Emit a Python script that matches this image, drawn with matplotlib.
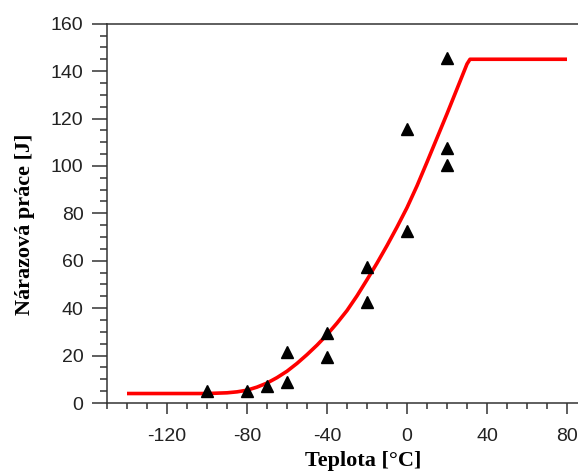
import matplotlib
matplotlib.use("Agg")
import matplotlib.pyplot as plt
from matplotlib.ticker import MultipleLocator

plt.rcParams["axes.unicode_minus"] = False

# measured impact energy
temp_meas = [-100, -80, -70, -60, -60, -40, -40, -20, -20, 0, 0, 20, 20, 20]
energy_meas = [5, 5, 7.3, 21.5, 9, 29.5, 19.5, 57.5, 42.5, 115.5, 72.5, 145.5, 107.5, 100.5]

# fitted transition curve
temp_fit = [-140, -100, -90, -85, -80, -75, -70, -65, -60, -55, -50, -45, -40, -35,
            -30, -25, -20, -15, -10, -5, 0, 5, 10, 15, 20, 25, 30, 31.5, 80]
energy_fit = [4, 4, 4.3, 4.7, 5.4, 6.7, 8.4, 10.7, 13.4, 16.7, 20.4, 24.4, 28.8, 33.7,
              39, 45.2, 52, 59, 66.4, 74.2, 82.4, 91.6, 101.6, 111.8, 122, 132.5, 143, 145, 145]

xticks = [-120, -80, -40, 0, 40, 80]
yticks = [0, 20, 40, 60, 80, 100, 120, 140, 160]

fig = plt.figure(figsize=(5.78, 4.73), dpi=100)
ax = fig.add_axes([107 / 578, 70 / 473, 1 - 107 / 578, (403 - 23.7) / 473])

ax.plot(temp_fit, energy_fit, color="red", lw=2.6, solid_capstyle="butt", zorder=2)
ax.plot(temp_meas, energy_meas, "^", color="black", ms=8.5, zorder=3)

ax.set_xlim(-150, 85.5)
ax.set_ylim(0, 160)
ax.set_xticks(xticks)
ax.set_yticks(yticks)
ax.xaxis.set_minor_locator(MultipleLocator(10))
ax.yaxis.set_minor_locator(MultipleLocator(5))

ax.spines["right"].set_visible(False)
for s in ["left", "bottom", "top"]:
    ax.spines[s].set_linewidth(1.1)
    ax.spines[s].set_color("#333333")

ax.tick_params(axis="x", which="major", length=8, width=1.1, pad=10, color="#333333")
ax.tick_params(axis="x", which="minor", length=4, width=1.1, color="#333333")
ax.tick_params(axis="y", which="major", length=11, width=1.1, pad=6, color="#333333")
ax.tick_params(axis="y", which="minor", length=5, width=1.1, color="#333333")
for lab in ax.get_xticklabels() + ax.get_yticklabels():
    lab.set_fontfamily("Liberation Sans")
    lab.set_fontsize(14)
    lab.set_color("#222222")

fig.text(363 / 578, 1 - 461 / 473, "Teplota [°C]", ha="center", va="center",
         family="Liberation Serif", weight="bold", fontsize=16)
fig.text(25 / 578, 1 - 224 / 473, "Nárazová práce [J]", ha="center", va="center",
         rotation=90, family="Liberation Serif", weight="bold", fontsize=16)

fig.savefig("out.png", dpi=100)
